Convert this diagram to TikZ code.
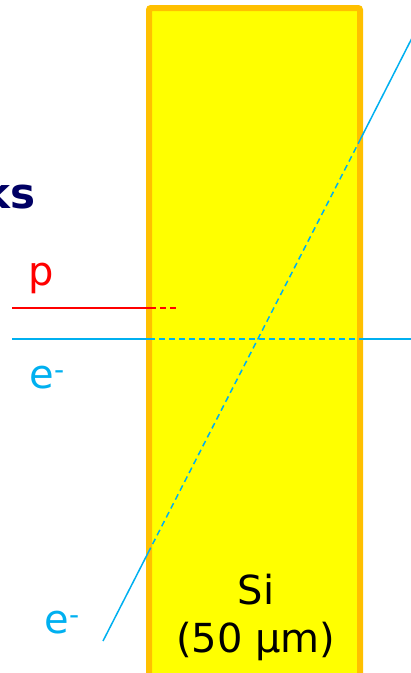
\documentclass[tikz,border=0pt]{standalone}
\usepackage{xcolor}
\usepackage{fontspec}
\setmainfont{DejaVu Sans}
\usepackage{tikz}
\usetikzlibrary{positioning,calc}

\definecolor{siyellow}{RGB}{255,255,0}
\definecolor{siorange}{RGB}{255,192,0}
\definecolor{ecyan}{RGB}{0,176,240}
\definecolor{titlenavy}{RGB}{0,0,100}

\tikzset{
    track/.style={line width=1.5pt},
    inside/.style={track, dash pattern=on 6pt off 4pt},
    lbl/.style={font=\fontsize{40}{44}\selectfont, inner sep=0pt}
}

\begin{document}
\begin{tikzpicture}[x=1pt,y=-1pt]
    \useasboundingbox (0,0) rectangle (411,673);

    % silicon slab
    \begin{scope}
        \clip (0,0) rectangle (411,673);
        \draw[siorange, line width=6pt, fill=siyellow, rounded corners=2pt] (149,8) rectangle (360,700);
    \end{scope}

    \node[lbl, anchor=east, text=titlenavy, font=\bfseries\fontsize{42}{44}\selectfont] (title) at (36,193) {ks};
    \node[lbl, text=red] (plbl) at (41,278) {p};
    \node[lbl, text=ecyan] (elbl) at (47,378) {e\textsuperscript{-}};
    \node[lbl, text=ecyan] (elbltwo) at (62,623) {e\textsuperscript{-}};
    \node[lbl] (si) at (256,590) {Si};
    \node[lbl, below=16pt of si] (thick) {(50 μm)};

    % proton track, stops in the slab
    \coordinate (pA) at (12,308);
    \coordinate (pB) at (150,308);
    \coordinate (pC) at (178,308);
    \draw[track, red] (pA) -- (pB);
    \draw[inside, red] (pB) -- (pC);

    % straight electron
    \coordinate (hA) at (12,339);
    \coordinate (hB) at (149,339);
    \coordinate (hC) at (360,339);
    \coordinate (hD) at (411,339);
    \draw[track, ecyan] (hA) -- (hB);
    \draw[inside, ecyan] (hB) -- (hC);
    \draw[track, ecyan] (hC) -- (hD);

    % slanted electron
    \coordinate (dA) at (103,641);
    \coordinate (dB) at (148,553);
    \coordinate (dC) at (360,140);
    \coordinate (dD) at (412,38);
    \draw[track, ecyan] (dA) -- (dB);
    \draw[inside, ecyan] (dB) -- (dC);
    \draw[track, ecyan] (dC) -- (dD);
\end{tikzpicture}
\end{document}
